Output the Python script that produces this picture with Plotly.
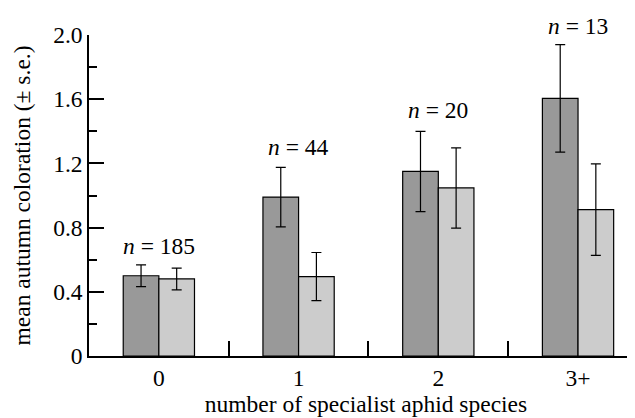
import plotly.graph_objects as go

categories = ["0", "1", "2", "3+"]
dark_values = [0.50, 0.99, 1.15, 1.605]
dark_errors = [0.068, 0.185, 0.25, 0.335]
light_values = [0.48, 0.495, 1.047, 0.912]
light_errors = [0.068, 0.15, 0.25, 0.285]
n_labels = ["<i>n</i> = 185", "<i>n</i> = 44", "<i>n</i> = 20", "<i>n</i> = 13"]
n_label_y = [0.687, 1.304, 1.533, 2.058]
y_max = 2.0

FONT = "Liberation Serif, Times New Roman, serif"
FS = 23.5

fig = go.Figure()
fig.add_trace(go.Bar(
    x=categories, y=dark_values,
    marker=dict(color="#999999", line=dict(color="black", width=1.2)),
    error_y=dict(type="data", array=dark_errors, color="black", thickness=1.2, width=5),
    showlegend=False,
))
fig.add_trace(go.Bar(
    x=categories, y=light_values,
    marker=dict(color="#cccccc", line=dict(color="black", width=1.2)),
    error_y=dict(type="data", array=light_errors, color="black", thickness=1.2, width=5),
    showlegend=False,
))

for c, t, yy in zip(categories, n_labels, n_label_y):
    fig.add_annotation(x=c, y=yy / y_max, yref="paper", text=t, showarrow=False,
                       yanchor="middle", font=dict(family=FONT, size=FS, color="black"))

fig.update_layout(
    width=635, height=418,
    margin=dict(l=81, r=0, t=27, b=70),
    paper_bgcolor="white", plot_bgcolor="white",
    barmode="group", bargap=0.49, bargroupgap=0,
    font=dict(family=FONT, size=FS, color="black"),
    xaxis=dict(
        range=[-0.5, 3.465], showline=True, linecolor="black", linewidth=1.5,
        ticks="inside", tickson="boundaries", ticklen=15, tickcolor="black", tickwidth=1.5,
        showgrid=False, zeroline=False,
        title=dict(text="number of specialist aphid species", standoff=6,
                   font=dict(family=FONT, size=FS)),
        tickfont=dict(family=FONT, size=FS),
    ),
    yaxis=dict(
        range=[0, y_max], showline=True, linecolor="black", linewidth=1.5,
        tickvals=[0, 0.4, 0.8, 1.2, 1.6, 2.0],
        ticktext=["0", "0.4", "0.8", "1.2", "1.6", "2.0"],
        ticks="inside", ticklen=15, tickcolor="black", tickwidth=1.5,
        minor=dict(tickvals=[0.2, 0.6, 1.0, 1.4, 1.8], ticks="inside", ticklen=8,
                   tickcolor="black", tickwidth=1.5),
        showgrid=False, zeroline=False,
        title=dict(text="mean autumn coloration (± s.e.)", standoff=16,
                   font=dict(family=FONT, size=FS)),
        tickfont=dict(family=FONT, size=FS),
    ),
)

fig.write_html("out.html")
